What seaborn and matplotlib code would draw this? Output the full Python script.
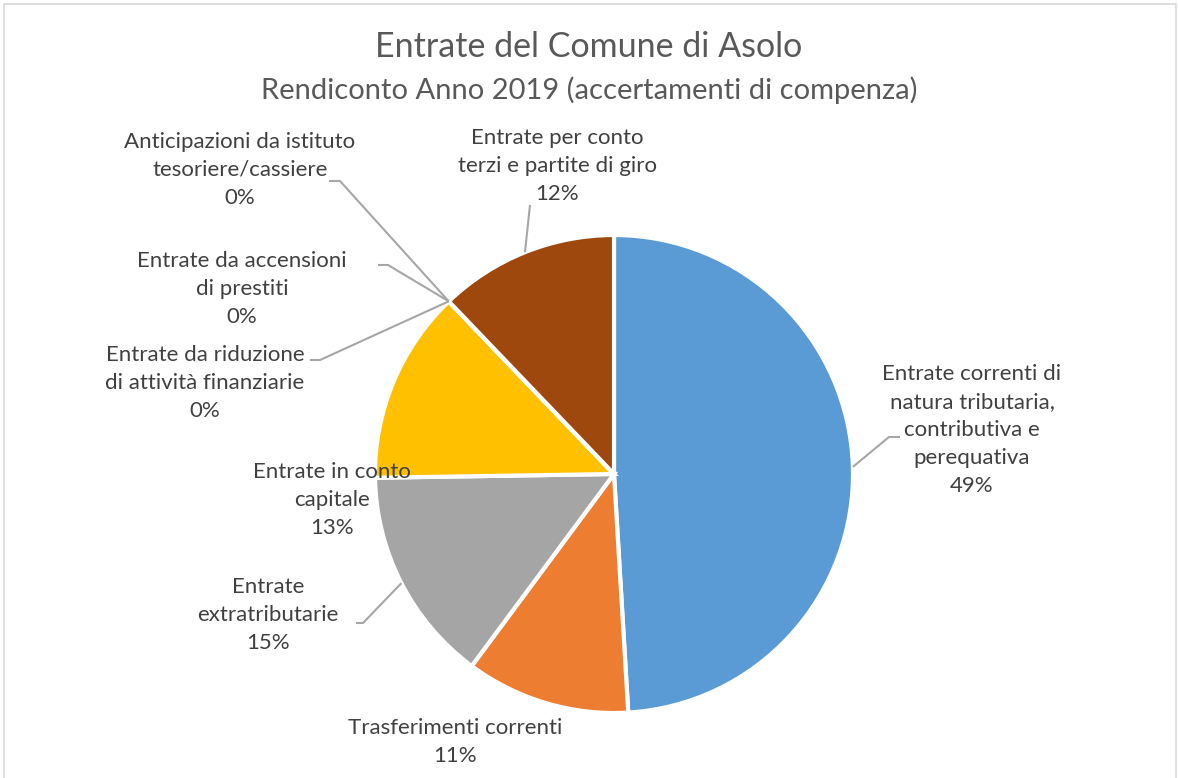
import numpy as np
import matplotlib
matplotlib.use("Agg")
import matplotlib.pyplot as plt
import seaborn as sns

# dati: quote delle entrate (accertamenti di competenza, in %)
categorie = [
    "Entrate correnti di\nnatura tributaria,\ncontributiva e\nperequativa",
    "Trasferimenti correnti",
    "Entrate\nextratributarie",
    "Entrate in conto\ncapitale",
    "Entrate da riduzione\ndi attività finanziarie",
    "Entrate da accensioni\ndi prestiti",
    "Anticipazioni da istituto\ntesoriere/cassiere",
    "Entrate per conto\nterzi e partite di giro",
]
valori = [49.05, 11.1, 14.6, 13.1, 0.0, 0.0, 0.0, 12.15]
colori = ["#5B9BD5", "#ED7D31", "#A5A5A5", "#FFC000",
          "#4472C4", "#70AD47", "#264478", "#9E480E"]

titolo = "Entrate del Comune di Asolo"
sottotitolo = "Rendiconto Anno 2019 (accertamenti di compenza)"

sns.set_theme(style="white")
plt.rcParams['font.family'] = ['Lato', 'DejaVu Sans']

W, H = 1178, 778
cx, cy, R = 614, 474, 239

fig = plt.figure(figsize=(W / 100, H / 100), dpi=100)
ax = fig.add_axes([0, 0, 1, 1])


def px(x, y):
    # coordinate immagine -> coordinate dati (centro torta = 0,0)
    return x - cx, cy - y


wedges, _ = ax.pie(valori, colors=colori, radius=R, startangle=90,
                   counterclock=False, center=(0, 0),
                   wedgeprops=dict(edgecolor="white", linewidth=3))
ax.set_xlim(-cx, W - cx)
ax.set_ylim(-(H - cy), cy)
ax.set_aspect("equal")
ax.axis("off")

# posizione etichette (centro del blocco) e gomito della linea guida
etichette = [
    ((972, 430), (889, 437), (900, 437)),
    ((455, 742), None, None),
    ((268, 615), (363, 623), (356, 623)),
    ((332, 500), None, None),
    ((205, 383), (320, 360), (310, 360)),
    ((242, 289), (388, 265), (378, 265)),
    ((240, 170), (340, 181), (329, 181)),
    ((557, 166), (530, 205), None),
]

tot = sum(valori)
for w, nome, v, (pos, gomito, fine) in zip(wedges, categorie, valori, etichette):
    perc = "%d%%" % round(v / tot * 100)
    tx, ty = px(*pos)
    ax.text(tx, ty, nome + "\n" + perc, ha="center", va="center",
            fontsize=16, color="#404040", linespacing=1.5)
    if gomito is None:
        continue
    ang = np.deg2rad((w.theta1 + w.theta2) / 2)
    ex, ey = R * np.cos(ang), R * np.sin(ang)
    gx, gy = px(*gomito)
    xs, ys = [ex, gx], [ey, gy]
    if fine is not None:
        fx, fy = px(*fine)
        xs.append(fx)
        ys.append(fy)
    ax.plot(xs, ys, color="#A6A6A6", linewidth=1.5, solid_capstyle="butt")

fig.text(0.5, 1 - 47 / H, titolo, ha="center", va="center",
         fontsize=24.5, color="#595959")
fig.text(0.5, 1 - 90 / H, sottotitolo, ha="center", va="center",
         fontsize=21, color="#595959")

bordo = plt.Rectangle((4 / W, -0.01), (W - 6) / W, 1 - 4 / H + 0.01,
                      transform=fig.transFigure, fill=False,
                      edgecolor="#D9D9D9", linewidth=1.2)
fig.patches.append(bordo)

fig.savefig("out.png", dpi=100, facecolor="white")
